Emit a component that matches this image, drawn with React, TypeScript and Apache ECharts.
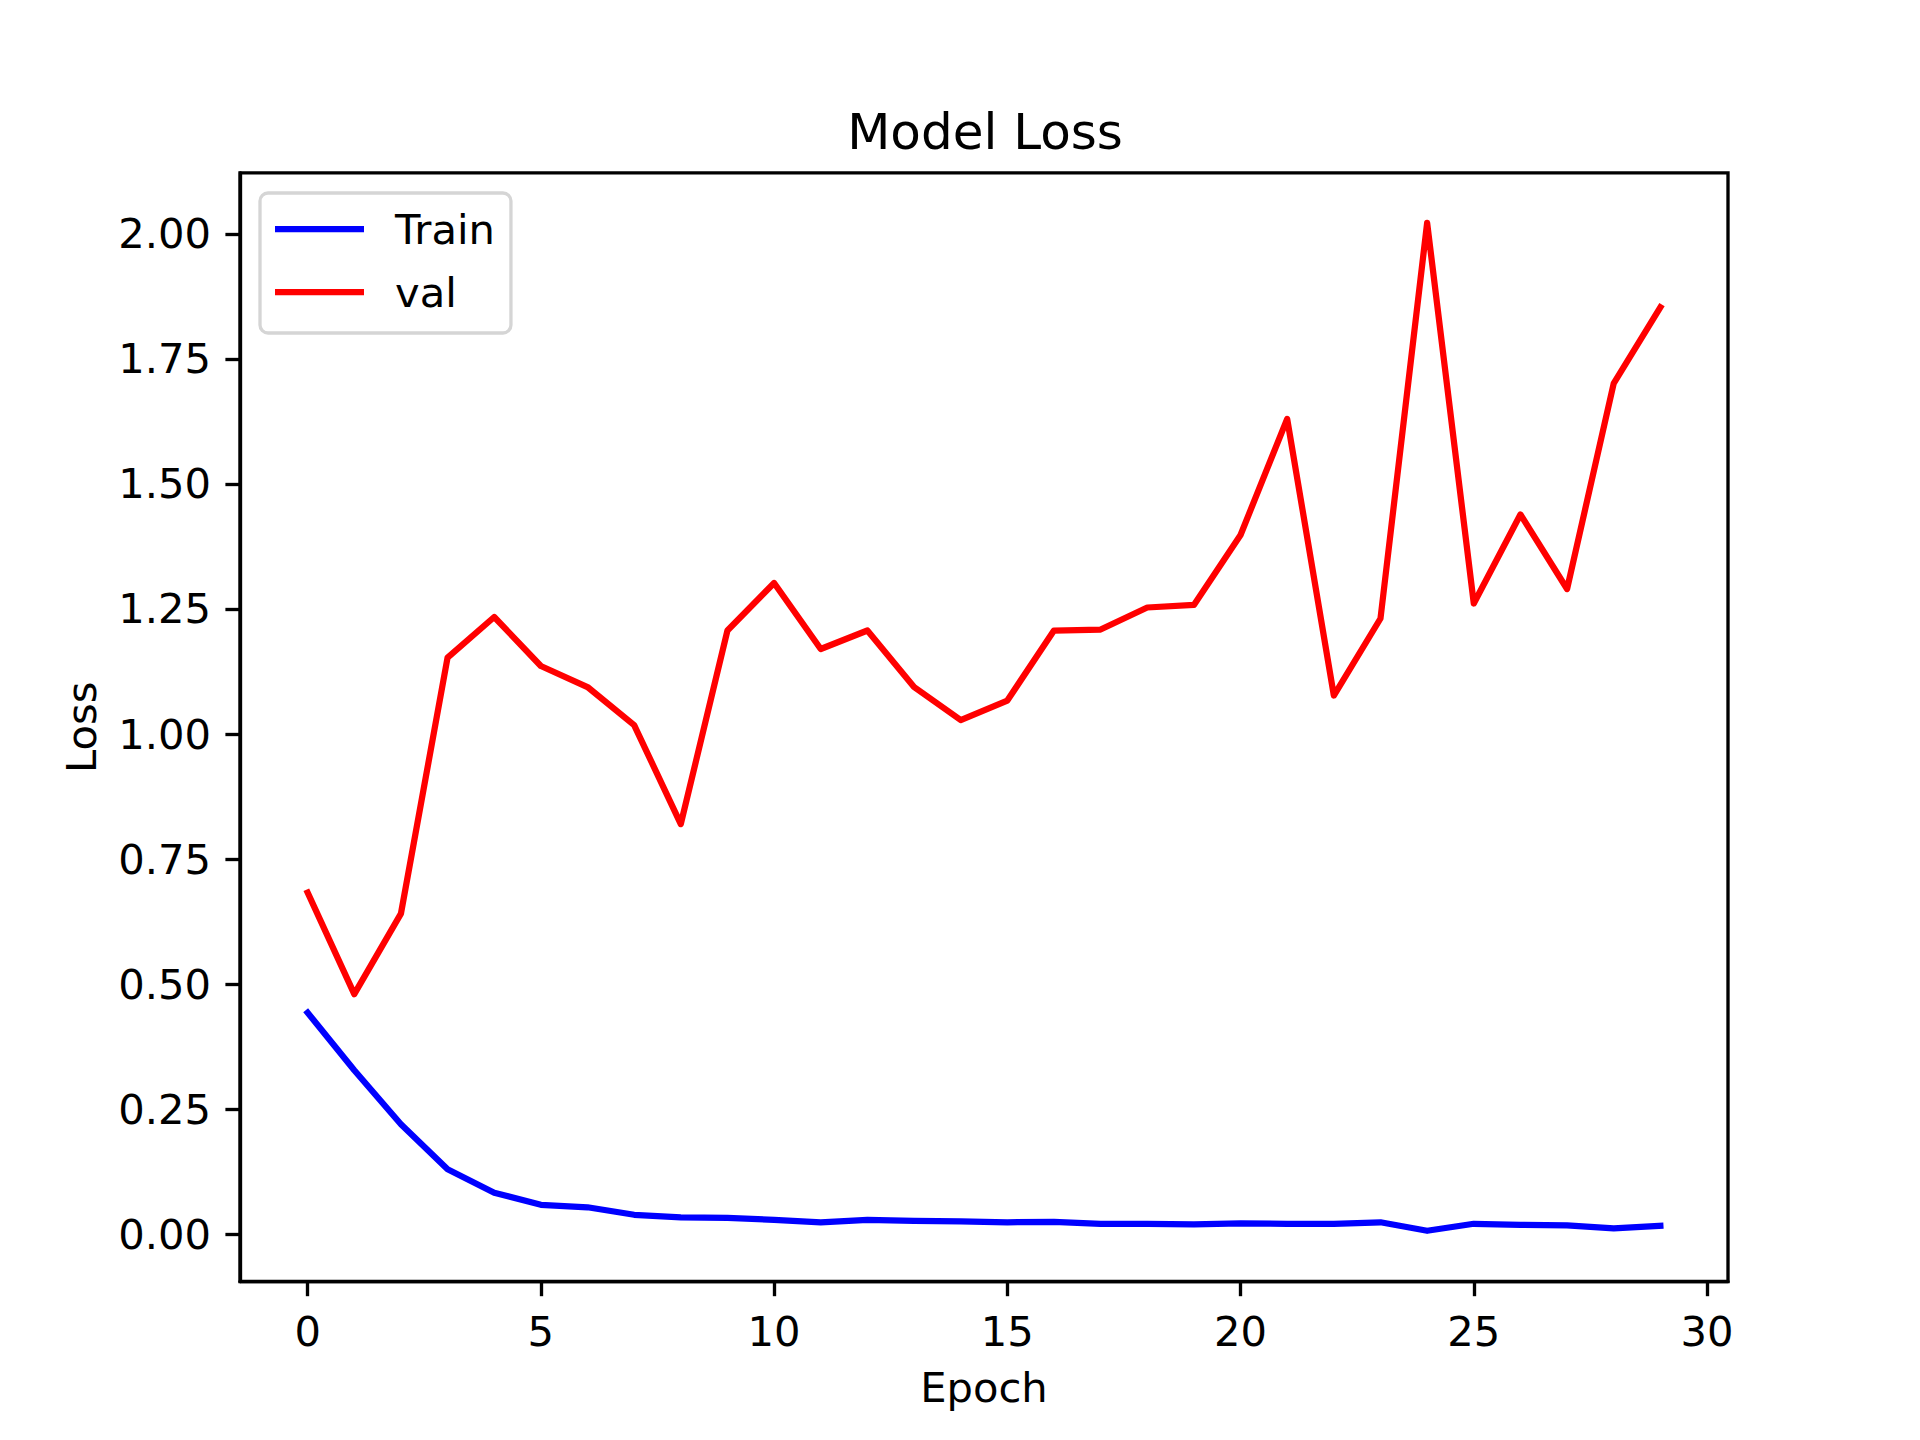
import React, { useEffect, useRef } from "react";
import * as echarts from "echarts";

const epochs = [0,1,2,3,4,5,6,7,8,9,10,11,12,13,14,15,16,17,18,19,20,21,22,23,24,25,26,27,28,29];
const trainLoss = [0.443,0.328,0.220,0.130,0.083,0.059,0.054,0.039,0.034,0.033,0.029,0.024,0.029,0.027,0.026,0.024,0.025,0.021,0.021,0.020,0.022,0.021,0.021,0.024,0.007,0.021,0.019,0.018,0.012,0.017];
const valLoss = [0.683,0.480,0.641,1.153,1.234,1.136,1.094,1.018,0.820,1.207,1.302,1.170,1.207,1.094,1.028,1.067,1.207,1.209,1.253,1.258,1.398,1.630,1.077,1.231,2.022,1.261,1.439,1.290,1.701,1.853];
const xTicks = [0,5,10,15,20,25,30];
const yTicks = [0,0.25,0.5,0.75,1.0,1.25,1.5,1.75,2.0];
const seriesNames = ["Train", "val"];

const FONT = "DejaVu Sans";
const FS = 41.67;

export default function App() {
  const ref = useRef<HTMLDivElement>(null);
  useEffect(() => {
    if (!ref.current) return;
    const chart = echarts.init(ref.current, null, { renderer: "svg" });
    const toPairs = (ys: number[]) => epochs.map((x, i) => [x, ys[i]]);
    chart.setOption({
      animation: false,
      backgroundColor: "#ffffff",
      textStyle: { fontFamily: FONT },
      title: {
        text: "Model Loss",
        left: 980,
        textAlign: "center",
        top: 101.5,
        textStyle: { fontFamily: FONT, fontSize: 50, fontWeight: "normal", color: "#000" },
      },
      legend: {
        data: seriesNames,
        orient: "vertical",
        left: 260,
        top: 193,
        icon: "rect",
        itemWidth: 89,
        itemHeight: 6.25,
        itemGap: 15,
        padding: [12, 16, 17, 15],
        borderColor: "#d5d5d5",
        borderWidth: 3.3,
        borderRadius: 8,
        backgroundColor: "rgba(255,255,255,0.8)",
        textStyle: { fontFamily: FONT, fontSize: FS, color: "#000", lineHeight: 48, padding: [0, 0, 0, 26] },
      },
      grid: {
        left: 240,
        right: 192,
        top: 172.8,
        bottom: 158.4,
        show: true,
        borderColor: "#000",
        borderWidth: 3.33,
        backgroundColor: "transparent",
      },
      xAxis: {
        type: "value",
        min: -1.45,
        max: 30.45,
        name: "Epoch",
        nameLocation: "middle",
        nameGap: 84.5,
        nameTextStyle: { fontFamily: FONT, fontSize: FS, color: "#000" },
        axisLine: { show: true, onZero: false, lineStyle: { color: "#000", width: 3.33 } },
        axisTick: { show: true, inside: false, length: 14.6, customValues: xTicks, lineStyle: { color: "#000", width: 3.33 } },
        axisLabel: { customValues: xTicks, margin: 29, fontFamily: FONT, fontSize: FS, color: "#000", formatter: (v: number) => String(v) },
        splitLine: { show: false },
      },
      yAxis: {
        type: "value",
        min: -0.0946,
        max: 2.122,
        name: "Loss",
        nameLocation: "middle",
        nameGap: 137.5,
        nameTextStyle: { fontFamily: FONT, fontSize: FS, color: "#000" },
        axisLine: { show: true, onZero: false, lineStyle: { color: "#000", width: 3.33 } },
        axisTick: { show: true, inside: false, length: 14.6, customValues: yTicks, lineStyle: { color: "#000", width: 3.33 } },
        axisLabel: { customValues: yTicks, margin: 29, fontFamily: FONT, fontSize: FS, color: "#000", formatter: (v: number) => v.toFixed(2) },
        splitLine: { show: false },
      },
      series: [
        {
          name: seriesNames[0],
          type: "line",
          data: toPairs(trainLoss),
          showSymbol: false,
          symbol: "none",
          color: "#0000ff",
          lineStyle: { color: "#0000ff", width: 6.25, cap: "square", join: "round" },
        },
        {
          name: seriesNames[1],
          type: "line",
          data: toPairs(valLoss),
          showSymbol: false,
          symbol: "none",
          color: "#ff0000",
          lineStyle: { color: "#ff0000", width: 6.25, cap: "square", join: "round" },
        },
      ],
    });
    return () => chart.dispose();
  }, []);
  return <div ref={ref} style={{ position: "absolute", left: 0, top: 0, width: 1920, height: 1440 }} />;
}
